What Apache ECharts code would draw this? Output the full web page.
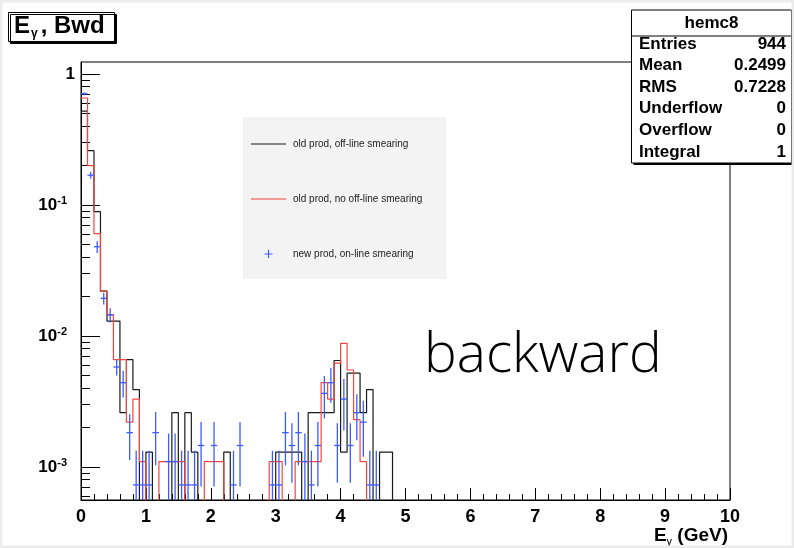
<!DOCTYPE html>
<html>
<head>
<meta charset="utf-8">
<title>E_gamma, Bwd</title>
<script src="https://cdn.jsdelivr.net/npm/echarts@6/dist/echarts.min.js"></script>
<style>
  html, body { margin: 0; padding: 0; background: #fff; }
  #main { width: 794px; height: 548px; }
</style>
</head>
<body>
<div id="main"></div>
<script>
// 0.1 GeV bins from 0 to 5 GeV, everything above 5 GeV is empty
const binWidth = 0.1;
const xMax = 10;

// old prod, off-line smearing (hemc8)
const blackVals = [
  0.52, 0.26, 0.089, 0.022, 0.013, 0.013, 0.0026, 0.0066, 0.0039, 0,
  0.0013, 0, 0, 0, 0.0026, 0, 0.0026, 0.0013, 0, 0,
  0, 0, 0.0013, 0, 0, 0, 0, 0, 0, 0,
  0.0013, 0.0013, 0.0013, 0.0013, 0, 0.0026, 0.0026, 0.0026, 0.0026, 0.0065,
  0.0013, 0.0052, 0.0052, 0.0026, 0.0039, 0, 0.0013, 0.0013, 0, 0
];

// old prod, no off-line smearing
const redVals = [
  0.656, 0.2, 0.0605, 0.022, 0.0145, 0.0066, 0.0066, 0.0022, 0.0033, 0.0011,
  0, 0, 0.0011, 0.0011, 0.0011, 0.0011, 0, 0, 0, 0.0011,
  0.0011, 0.0011, 0, 0, 0, 0, 0, 0, 0, 0.0011,
  0.0011, 0, 0, 0.0011, 0.0011, 0.0011, 0.0011, 0.0044, 0.0033, 0.0062,
  0.0088, 0.0055, 0.0023, 0.0011, 0, 0, 0, 0, 0, 0
];

// new prod, on-line smearing (points with errors)
const blueVals = [
  0.707, 0.169, 0.048, 0.0194, 0.0145, 0.0058, 0.0044, 0.00183, 0.00073, 0.00073,
  0.00073, 0.00183, 0, 0.0011, 0.0011, 0.00073, 0.00073, 0.00073, 0.00146, 0,
  0.00146, 0, 0, 0.00073, 0.00146, 0, 0, 0, 0, 0.00073,
  0.00073, 0.00183, 0.00146, 0.00183, 0.0011, 0.00073, 0.00146, 0.00365, 0.0044, 0.00146,
  0.0033, 0.00146, 0.0026, 0.0022, 0.00073, 0.00073, 0, 0, 0, 0
];
const blueErrs = [
  0.02, 0.01, 0.005, 0.002, 0.0018, 0.0008, 0.001, 0.0007, 0.0006, 0.0006,
  0.0006, 0.0008, 0, 0.0007, 0.0007, 0.0006, 0.0006, 0.0006, 0.00075, 0,
  0.00075, 0, 0, 0.0006, 0.00075, 0, 0, 0, 0, 0.0006,
  0.0006, 0.0008, 0.0007, 0.0008, 0.0007, 0.0006, 0.00075, 0.0013, 0.0013, 0.0007,
  0.0014, 0.0007, 0.001, 0.001, 0.0006, 0.0006, 0, 0, 0, 0
];

const seriesNames = [
  'old prod, off-line smearing',
  'old prod, no off-line smearing',
  'new prod, on-line smearing'
];
const statsTitle = 'hemc8';
const statsRows = [
  ['Entries', '944'],
  ['Mean', '0.2499'],
  ['RMS', '0.7228'],
  ['Underflow', '0'],
  ['Overflow', '0'],
  ['Integral', '1']
];

const yMin = 5.6e-4;
const yMax = 1.235;
const floorVal = 1e-6; // empty bins, drawn below the frame and clipped
const FONT = "'Liberation Sans', Arial, sans-serif";
const black = '#1a1a1a';
const red = '#f4473c';
const blue = '#3d5cff';

// histogram outline as a step line through the bin low edges
function histLine(vals) {
  const pts = vals.map((v, i) => [i * binWidth, v > 0 ? v : floorVal]);
  pts.push([vals.length * binWidth, floorVal]);
  pts.push([xMax, floorVal]);
  return pts;
}

const blueData = [];
blueVals.forEach((v, i) => {
  if (v > 0) blueData.push([(i + 0.5) * binWidth, v, blueErrs[i]]);
});

// minor ticks of the log axis (2..9 x 10^n), in log10 units
const minorTicks = [];
for (let d = -4; d <= 0; d++) {
  for (let m = 2; m <= 9; m++) {
    const t = Math.log10(m) + d;
    if (t > Math.log10(yMin) && t < Math.log10(yMax)) minorTicks.push(t);
  }
}

function renderCross(params, api) {
  const xc = api.value(0);
  const v = api.value(1);
  const err = api.value(2);
  const lo = Math.max(v - err, yMin);
  const hi = Math.min(v + err, yMax);
  const pL = api.coord([xc - binWidth / 2, v]);
  const pR = api.coord([xc + binWidth / 2, v]);
  const pB = api.coord([xc, lo]);
  const pT = api.coord([xc, hi]);
  const style = { stroke: blue, lineWidth: 1.3 };
  return {
    type: 'group',
    children: [
      { type: 'line', shape: { x1: pL[0], y1: pL[1], x2: pR[0], y2: pR[1] }, style: style },
      { type: 'line', shape: { x1: pB[0], y1: pB[1], x2: pT[0], y2: pT[1] }, style: style }
    ]
  };
}

// stats box children
const statsChildren = [
  { type: 'rect', shape: { x: 633.5, y: 12, width: 160, height: 153 }, style: { fill: '#000' } },
  { type: 'rect', shape: { x: 631.5, y: 10, width: 160, height: 153 }, style: { fill: '#fff', stroke: '#000', lineWidth: 1 } },
  { type: 'line', shape: { x1: 631.5, y1: 36, x2: 791.5, y2: 36 }, style: { stroke: '#000', lineWidth: 1 } },
  { type: 'text', x: 711.5, y: 23, style: { text: statsTitle, font: 'bold 17px ' + FONT, fill: '#000', align: 'center', verticalAlign: 'middle' } }
];
statsRows.forEach((r, i) => {
  const y = 44 + i * 21.6;
  statsChildren.push({ type: 'text', x: 639, y: y, style: { text: r[0], font: 'bold 17px ' + FONT, fill: '#000', align: 'left', verticalAlign: 'middle' } });
  statsChildren.push({ type: 'text', x: 786, y: y, style: { text: r[1], font: 'bold 17px ' + FONT, fill: '#000', align: 'right', verticalAlign: 'middle' } });
});

const lineIcon = 'path://M0,0L0,0M35,10L35,10M0,4.4h35v1.2h-35z';
const crossIcon = 'path://M0,0L0,0M35,10L35,10M13.5,4.4h8v1.2h-8zM16.9,1h1.2v8h-1.2z';

const chart = echarts.init(document.getElementById('main'));
chart.setOption({
  animation: false,
  backgroundColor: '#fff',
  title: {
    text: '{b|E}{s|γ}{b|, Bwd}',
    left: 8,
    top: 11,
    padding: [2, 10, 2, 6],
    backgroundColor: '#fff',
    borderColor: '#000',
    borderWidth: 1,
    shadowColor: '#000',
    shadowOffsetX: 2,
    shadowOffsetY: 2,
    shadowBlur: 0,
    textStyle: {
      rich: {
        b: { fontFamily: FONT, fontWeight: 'bold', fontSize: 24, color: '#000', lineHeight: 27 },
        s: { fontFamily: FONT, fontSize: 12, color: '#000', verticalAlign: 'bottom', lineHeight: 12, padding: [0, 3, 0, 1] }
      }
    }
  },
  legend: {
    left: 243,
    top: 117,
    orient: 'vertical',
    backgroundColor: '#f3f3f3',
    padding: [22, 24, 20, 8],
    itemWidth: 35,
    itemHeight: 10,
    itemGap: 45,
    selectedMode: false,
    itemStyle: { borderWidth: 0 },
    textStyle: { fontFamily: FONT, fontSize: 10, color: '#222', padding: [0, 0, 0, 2] },
    data: [
      { name: seriesNames[0], icon: lineIcon },
      { name: seriesNames[1], icon: lineIcon },
      { name: seriesNames[2], icon: crossIcon }
    ]
  },
  grid: {
    left: 81,
    top: 62,
    width: 649,
    height: 438,
    show: true,
    borderColor: '#000',
    borderWidth: 1,
    backgroundColor: 'transparent'
  },
  xAxis: {
    type: 'value',
    min: 0,
    max: xMax,
    interval: 1,
    name: '{b|E}{s|γ}{b| (GeV)}',
    nameLocation: 'end',
    nameGap: 0,
    nameTextStyle: {
      align: 'right',
      verticalAlign: 'top',
      padding: [25, 2, 0, 0],
      rich: {
        b: { fontFamily: FONT, fontWeight: 'bold', fontSize: 19, color: '#000', lineHeight: 22 },
        s: { fontFamily: FONT, fontSize: 11, color: '#000', verticalAlign: 'bottom', lineHeight: 9 }
      }
    },
    axisLine: { onZero: false, lineStyle: { color: '#000', width: 1 } },
    axisTick: { inside: true, length: 12, lineStyle: { color: '#000' } },
    minorTick: { show: true, splitNumber: 5, length: 6, lineStyle: { color: '#000' } },
    axisLabel: { margin: 8, color: '#000', fontFamily: FONT, fontWeight: 'bold', fontSize: 18 },
    splitLine: { show: false }
  },
  yAxis: [
    {
      type: 'log',
      logBase: 10,
      min: yMin,
      max: yMax,
      axisLine: { show: true, lineStyle: { color: '#000', width: 1 } },
      axisTick: { show: true, inside: true, length: 19, lineStyle: { color: '#000' } },
      splitLine: { show: false },
      axisLabel: {
        margin: 6,
        showMinLabel: false,
        showMaxLabel: false,
        formatter: function (v) {
          const e = Math.round(Math.log10(v));
          if (e === 0) return '{b|1}';
          return '{b|10}{s|' + e + '}';
        },
        rich: {
          b: { fontFamily: FONT, fontWeight: 'bold', fontSize: 17, color: '#000', lineHeight: 20 },
          s: { fontFamily: FONT, fontWeight: 'bold', fontSize: 11, color: '#000', verticalAlign: 'top', lineHeight: 10, padding: [0, 8, 0, 0] }
        }
      }
    },
    {
      // only carries the 2..9 minor ticks of the log scale
      type: 'value',
      position: 'left',
      min: Math.log10(yMin),
      max: Math.log10(yMax),
      axisLine: { show: false, onZero: false },
      axisLabel: { show: false },
      splitLine: { show: false },
      axisTick: { show: true, inside: true, length: 9, customValues: minorTicks, lineStyle: { color: '#000' } }
    }
  ],
  series: [
    {
      name: seriesNames[0],
      type: 'line',
      step: 'end',
      symbol: 'none',
      data: histLine(blackVals),
      lineStyle: { color: black, width: 1.2 },
      itemStyle: { color: black },
      z: 2
    },
    {
      name: seriesNames[1],
      type: 'line',
      step: 'end',
      symbol: 'none',
      data: histLine(redVals),
      lineStyle: { color: red, width: 1.2 },
      itemStyle: { color: red },
      z: 3
    },
    {
      name: seriesNames[2],
      type: 'custom',
      renderItem: renderCross,
      encode: { x: 0, y: 1 },
      data: blueData,
      itemStyle: { color: blue },
      clip: true,
      z: 4
    }
  ],
  graphic: [
    {
      type: 'rect',
      silent: true,
      shape: { x: 0, y: 0, width: 794, height: 548 },
      style: { fill: 'none', stroke: '#ececec', lineWidth: 5 },
      z: 100
    },
    {
      type: 'text',
      x: 424,
      y: 356,
      style: { text: 'backward', font: '300 55px "Open Sans", sans-serif', fill: '#000', align: 'left', verticalAlign: 'middle' },
      z: 100
    },
    { type: 'group', children: statsChildren, z: 100 }
  ]
});
</script>
</body>
</html>
